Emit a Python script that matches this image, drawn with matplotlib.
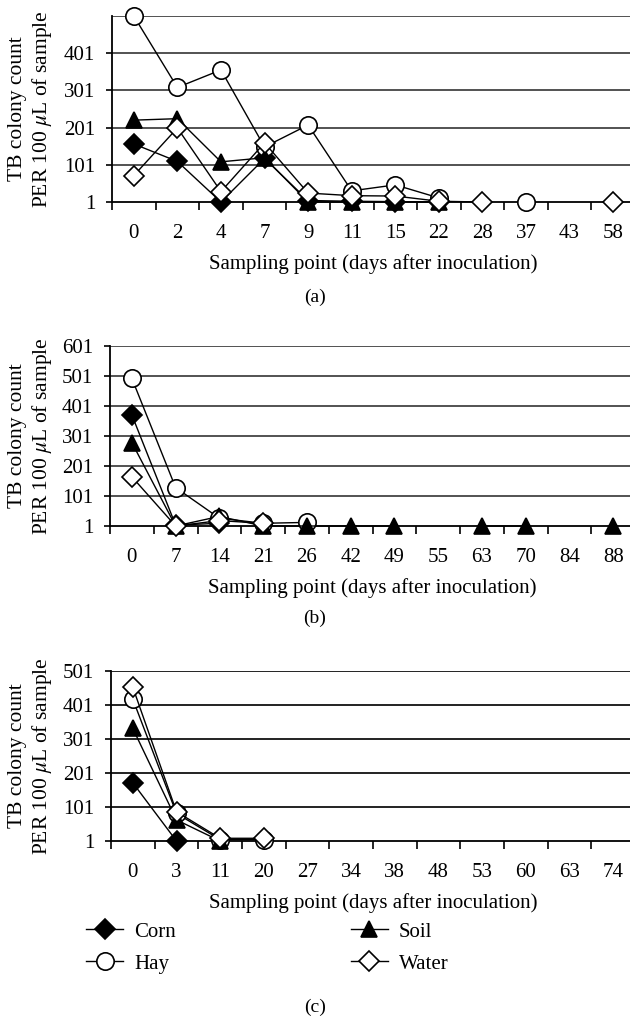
import numpy as np
import matplotlib
matplotlib.use("Agg")
import matplotlib.pyplot as plt
from matplotlib.lines import Line2D

plt.rcParams['font.family'] = ['Liberation Serif', 'DejaVu Serif']
plt.rcParams['mathtext.fontset'] = 'stix'

nan = np.nan

# --------------------------
# Data
# --------------------------
days_a = ['0', '2', '4', '7', '9', '11', '15', '22', '28', '37', '43', '58']
corn_a = [157, 110, 1, 118, 5, 3, 2, 1, nan, nan, nan, nan]
hay_a = [501, 309, 356, 149, 208, 31, 47, 12, nan, 1, nan, nan]
soil_a = [221, 225, 109, 120, 1, 1, 1, 1, nan, nan, nan, nan]
water_a = [72, 200, 29, 160, 25, 18, 17, 3, 1, nan, nan, 1]

days_b = ['0', '7', '14', '21', '26', '42', '49', '55', '63', '70', '84', '88']
corn_b = [371, 4, 10, nan, nan, nan, nan, nan, nan, nan, nan, nan]
hay_b = [493, 129, 27, 10, 13, nan, nan, nan, nan, nan, nan, nan]
soil_b = [279, 1, 33, 1, 1, 1, 1, nan, 1, 1, nan, 1]
water_b = [165, 1, 19, 10, nan, nan, nan, nan, nan, nan, nan, nan]

days_c = ['0', '3', '11', '20', '27', '34', '38', '48', '53', '60', '63', '74']
corn_c = [172, 1, nan, nan, nan, nan, nan, nan, nan, nan, nan, nan]
hay_c = [418, 82, 5, 5, nan, nan, nan, nan, nan, nan, nan, nan]
soil_c = [332, 63, 1, nan, nan, nan, nan, nan, nan, nan, nan, nan]
water_c = [453, 87, 9, 9, nan, nan, nan, nan, nan, nan, nan, nan]

yticks_a = [1, 101, 201, 301, 401]
yticks_b = [1, 101, 201, 301, 401, 501, 601]
yticks_c = [1, 101, 201, 301, 401, 501]

# marker styles per series
styles = {
    'Corn': dict(marker='D', mfc='black', mec='black', ms=10),
    'Hay': dict(marker='o', mfc='white', mec='black', ms=12.5),
    'Soil': dict(marker='^', mfc='black', mec='black', ms=11),
    'Water': dict(marker='D', mfc='white', mec='black', ms=10),
}

W, H = 630, 1019
FS = 15
fig = plt.figure(figsize=(W / 100, H / 100), dpi=100)


def make_panel(left, top, bottom, days, series, yticks, ymax, caption, cap_y, grid_col):
    right = 635
    ax = fig.add_axes([left / W, 1 - bottom / H, (right - left) / W, (bottom - top) / H])
    x = np.arange(len(days))
    for i, (name, vals) in enumerate(series):
        ax.plot(x, vals, color='black', lw=1.0, mew=1.2, clip_on=False,
                zorder=3 + i, **styles[name])
    ax.set_xlim(-0.5, len(days) - 0.5)
    ax.set_ylim(1, ymax)
    ax.set_yticks(yticks)
    ax.set_yticklabels([str(t) for t in yticks], fontsize=FS)
    for t in range(101, ymax + 1, 100):
        ax.axhline(t, color=grid_col, lw=1.3, zorder=1)
    ax.set_xticks(x)
    ax.set_xticklabels(days, fontsize=FS)
    ax.set_xticks(np.arange(len(days) + 1) - 0.5, minor=True)
    ax.tick_params(axis='x', which='major', length=0, pad=16)
    ax.tick_params(axis='x', which='minor', length=6, width=1.2, direction='out')
    ax.tick_params(axis='y', length=4, width=1.2, pad=8)
    for s in ['top', 'right']:
        ax.spines[s].set_visible(False)
    for s in ['left', 'bottom']:
        ax.spines[s].set_linewidth(1.3)
    ax.set_xlabel('Sampling point (days after inoculation)', fontsize=FS, labelpad=8)
    ax.set_ylabel('TB colony count\nPER 100 $\\mu$L of sample', fontsize=15.5,
                  linespacing=1.2, va='center')
    ax.yaxis.set_label_coords(-(left - 31) / (right - left), 0.5)
    fig.text(0.5, 1 - cap_y / H, caption, ha='center', va='center', fontsize=14)
    return ax


make_panel(112, 16, 202, days_a,
           [('Corn', corn_a), ('Hay', hay_a), ('Soil', soil_a), ('Water', water_a)],
           yticks_a, 501, '(a)', 297, '#444444')
make_panel(110, 346, 526, days_b,
           [('Corn', corn_b), ('Hay', hay_b), ('Soil', soil_b), ('Water', water_b)],
           yticks_b, 601, '(b)', 618, '#444444')
make_panel(111, 671, 841, days_c,
           [('Corn', corn_c), ('Hay', hay_c), ('Soil', soil_c), ('Water', water_c)],
           yticks_c, 501, '(c)', 1007, '#111111')

# legend below panel (c)
handles = [Line2D([], [], color='black', lw=1.0, mew=1.2, **styles[n])
           for n in ['Corn', 'Hay', 'Soil', 'Water']]
fig.legend(handles, ['Corn', 'Hay', 'Soil', 'Water'], ncol=2, frameon=False,
           fontsize=FS, loc='upper left', bbox_to_anchor=(86 / W, 1 - 922 / H),
           handlelength=1.8, handletextpad=0.5, columnspacing=8.4, labelspacing=0.6,
           borderaxespad=0, borderpad=0)

fig.savefig('out.png', dpi=100)
